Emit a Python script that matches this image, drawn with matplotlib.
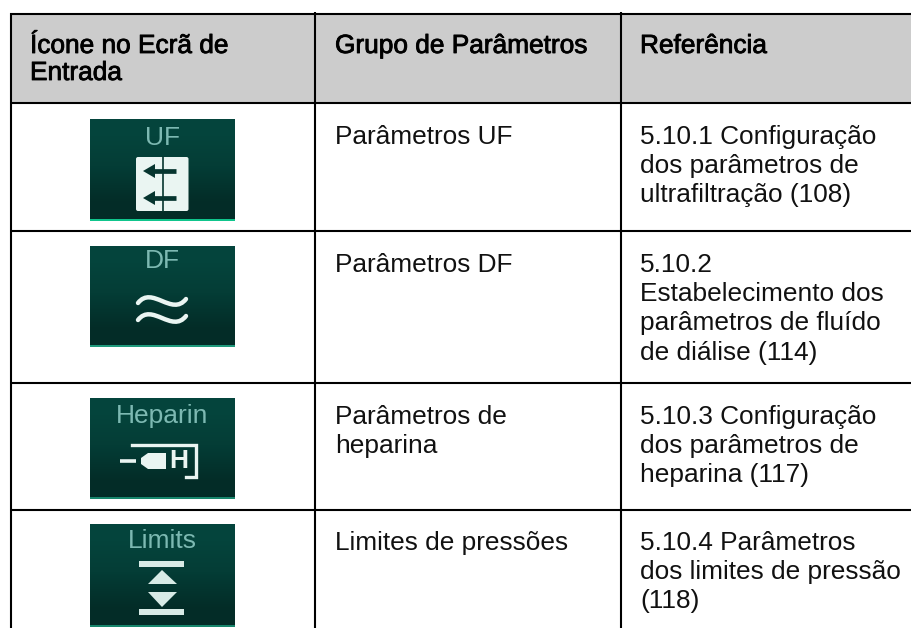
import matplotlib
matplotlib.use('Agg')
import matplotlib.pyplot as plt
import matplotlib.patheffects as pe
import numpy as np
from matplotlib.patches import Rectangle, Polygon, PathPatch, FancyBboxPatch
from matplotlib.path import Path

plt.rcParams['font.family'] = ['Liberation Sans', 'DejaVu Sans']

headers = [['Ícone no Ecrã de', 'Entrada'], ['Grupo de Parâmetros'], ['Referência']]
icon_labels = ['UF', 'DF', 'Heparin', 'Limits']
groups = [['Parâmetros UF'], ['Parâmetros DF'], ['Parâmetros de', 'heparina'], ['Limites de pressões']]
refs = [
    ['5.10.1 Configuração', 'dos parâmetros de', 'ultrafiltração (108)'],
    ['5.10.2', 'Estabelecimento dos', 'parâmetros de fluído', 'de diálise (114)'],
    ['5.10.3 Configuração', 'dos parâmetros de', 'heparina (117)'],
    ['5.10.4 Parâmetros', 'dos limites de pressão', '(118)'],
]

W, H = 912, 628
FS = 18.9
LINE = 29.2
col_x = [30, 335, 640]
row_lines = [14, 103, 230.5, 383, 510]
baselines = [144, 272, 424, 550]
icon_boxes = [(120, 220.5), (247, 346.5), (398, 499), (525, 626.5)]
label_y = [138, 261, 416, 541]
strip_colors = ['#10c58c', '#1f9a7c', '#17866c', '#17866c']

fig = plt.figure(figsize=(W / 100, H / 100), dpi=100)
ax = fig.add_axes([0, 0, 1, 1])
ax.set_xlim(0, W)
ax.set_ylim(H, 0)
ax.axis('off')

# header band and rules
ax.add_patch(Rectangle((11, 14), W - 11, 89, fc='#cccccc', ec='none', zorder=0))
for y in row_lines:
    ax.plot([10, W], [y, y], color='black', lw=1.5, solid_capstyle='butt', zorder=2)
ax.plot([11, 11], [13, H], color='black', lw=1.5, solid_capstyle='butt', zorder=2)
for x in [315, 621]:
    ax.plot([x, x], [12, H], color='black', lw=1.5, solid_capstyle='butt', zorder=2)

# header text, slightly heavier than regular
for x, lines in zip(col_x, headers):
    for i, line in enumerate(lines):
        ax.text(x, 53 + i * 27, line, fontsize=FS, color='black', va='baseline', ha='left',
                path_effects=[pe.withStroke(linewidth=0.6, foreground='black')])

# body text
for base, grp, ref in zip(baselines, groups, refs):
    for i, line in enumerate(grp):
        ax.text(col_x[1], base + i * LINE, line, fontsize=FS, color='#111111', va='baseline')
    for i, line in enumerate(ref):
        ax.text(col_x[2], base + i * LINE, line, fontsize=FS, color='#111111', va='baseline')

# icon backgrounds
grad = np.array([[0.0], [0.55], [1.0]])
cmap = matplotlib.colors.LinearSegmentedColormap.from_list('icon', ['#04443c', '#043d36', '#032c27'])
ICON_L, ICON_R = 90, 235
for (top, bot), lab, ly, sc in zip(icon_boxes, icon_labels, label_y, strip_colors):
    ax.imshow(grad, extent=(ICON_L, ICON_R, bot, top), cmap=cmap, aspect='auto', zorder=1, interpolation='bilinear')
    ax.add_patch(Rectangle((ICON_L, bot - 2), ICON_R - ICON_L, 2, fc=sc, ec='none', zorder=3))
    ax.text(162.5, ly, lab, fontsize=19, color='#7db9b2', ha='center', va='center', zorder=3)
ax.set_xlim(0, W)
ax.set_ylim(H, 0)

WHITE = '#eaf5f2'
DARK = '#06352f'

# UF glyph
ax.add_patch(FancyBboxPatch((136, 157), 52.5, 54, boxstyle='round,pad=0,rounding_size=2', fc=WHITE, ec='none', zorder=3))
ax.plot([163, 163], [157, 211], color=DARK, lw=1.2, zorder=4)
for y in [171, 198]:
    ax.plot([149, 176], [y, y], color=DARK, lw=3.4, solid_capstyle='butt', zorder=4)
    ax.add_patch(Polygon([(143, y), (155, y - 7), (155, y + 7)], fc=DARK, ec='none', zorder=4))

# DF glyph
for y in [301, 318]:
    verts = [(138, y + 2), (152, y - 16), (172, y + 16), (186, y - 2)]
    ax.add_patch(PathPatch(Path(verts, [Path.MOVETO, Path.CURVE4, Path.CURVE4, Path.CURVE4]),
                           fc='none', ec=WHITE, lw=3.2, capstyle='round', zorder=3))

# Heparin glyph
ax.plot([132, 196, 196, 186], [445, 445, 477, 477], color=WHITE, lw=2.4, solid_joinstyle='miter', zorder=3)
ax.plot([120, 136], [461, 461], color=WHITE, lw=2.6, solid_capstyle='butt', zorder=3)
ax.add_patch(Polygon([(141, 458), (148, 453), (166, 453), (166, 469), (148, 469), (141, 464)], fc=WHITE, ec='none', zorder=3))
ax.text(179, 461, 'H', fontsize=19, fontweight='bold', color=WHITE, ha='center', va='center', zorder=3)

# Limits glyph
for y in [561, 609]:
    ax.add_patch(Rectangle((139, y), 45, 6, fc='#d8ebe6', ec='none', zorder=3))
ax.add_patch(Polygon([(162, 570), (148, 584), (177, 584)], fc='#d8ebe6', ec='none', zorder=3))
ax.add_patch(Polygon([(148, 592), (177, 592), (162, 607)], fc='#d8ebe6', ec='none', zorder=3))

plt.savefig('out.png', dpi=100)
